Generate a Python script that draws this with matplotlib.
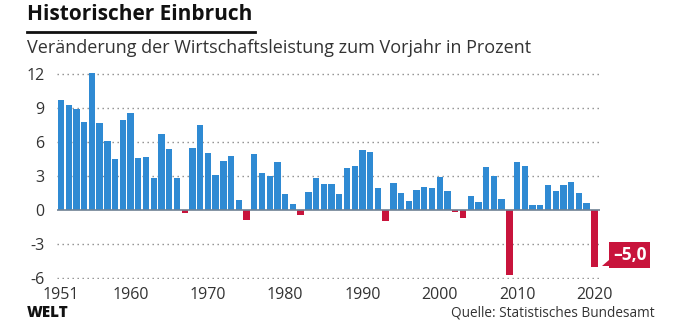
import matplotlib.pyplot as plt
from matplotlib.patches import Polygon

# Daten: Veränderung des BIP zum Vorjahr in Prozent
years = list(range(1951, 2021))
growth = [9.7, 9.3, 8.9, 7.8, 12.1, 7.7, 6.1, 4.5, 7.9, 8.6,
          4.6, 4.7, 2.8, 6.7, 5.4, 2.8, -0.3, 5.5, 7.5, 5.0,
          3.1, 4.3, 4.8, 0.9, -0.9, 4.9, 3.3, 3.0, 4.2, 1.4,
          0.5, -0.4, 1.6, 2.8, 2.3, 2.3, 1.4, 3.7, 3.9, 5.3,
          5.1, 1.9, -1.0, 2.4, 1.5, 0.8, 1.8, 2.0, 1.9, 2.9,
          1.7, -0.2, -0.7, 1.2, 0.7, 3.8, 3.0, 1.0, -5.7, 4.2,
          3.9, 0.4, 0.4, 2.2, 1.7, 2.2, 2.5, 1.5, 0.6, -5.0]
yticks = [-6, -3, 0, 3, 6, 9, 12]
xticks = [1951, 1960, 1970, 1980, 1990, 2000, 2010, 2020]

BLUE = "#2f8ad3"
RED = "#c8143c"
TXT = "#333333"

plt.rcParams['font.family'] = ['Open Sans', 'DejaVu Sans']

fig = plt.figure(figsize=(6.8, 3.25), dpi=100)
ax = fig.add_axes([57 / 680, 0.1412, 543 / 680, 0.6416])

colors = [BLUE if v >= 0 else RED for v in growth]
ax.bar(years, growth, width=0.82, color=colors, zorder=3)

ax.set_xlim(1950.48, 2020.73)
ax.set_ylim(-6.1, 12.3)
for y in yticks:
    if y != 0:
        ax.axhline(y, color="#8a8a8a", lw=1.0, ls=(0, (1, 2.6)), zorder=1)
ax.axhline(0, color="#6f8294", lw=1.2, zorder=4)

for s in ax.spines.values():
    s.set_visible(False)
ax.set_yticks(yticks)
ax.set_yticklabels([str(t) for t in yticks])
ax.set_xticks(xticks)
ax.set_xticklabels([str(t) for t in xticks])
ax.tick_params(axis="both", length=0, labelsize=11.5, colors=TXT)
ax.tick_params(axis="y", pad=9)
ax.tick_params(axis="x", pad=6)

# Label für 2020
last = growth[-1]
ax.text(2024.6, -3.97, ("%.1f" % last).replace(".", ",").replace("-", "\u2013"),
        ha="center", va="center", color="white", fontsize=12.5,
        fontweight="bold", clip_on=False, zorder=5,
        bbox=dict(boxstyle="square,pad=0.22", fc=RED, ec="none"))
ax.add_patch(Polygon([(2020.95, last + 0.02), (2021.9, last + 0.02), (2021.9, last + 0.6)],
                     closed=True, fc=RED, ec="none", clip_on=False, zorder=5))

# Titel
fig.text(27 / 680, 1 - 15 / 325, "Historischer Einbruch", fontsize=15,
         fontweight="bold", color="#111111", va="center", ha="left")
fig.add_artist(plt.Line2D([27 / 680, 255 / 680], [1 - 32 / 325, 1 - 32 / 325],
                          color="#111111", lw=2))
fig.text(27 / 680, 1 - 48 / 325, "Veränderung der Wirtschaftsleistung zum Vorjahr in Prozent",
         fontsize=13, color=TXT, va="center", ha="left")

fig.text(27 / 680, 1 - 313 / 325, "WELT", fontsize=11, fontweight="heavy",
         color="#111111", va="center", ha="left")
fig.text(655 / 680, 1 - 313 / 325, "Quelle: Statistisches Bundesamt", fontsize=9.8,
         color=TXT, va="center", ha="right")

fig.savefig("out.png", dpi=100)
